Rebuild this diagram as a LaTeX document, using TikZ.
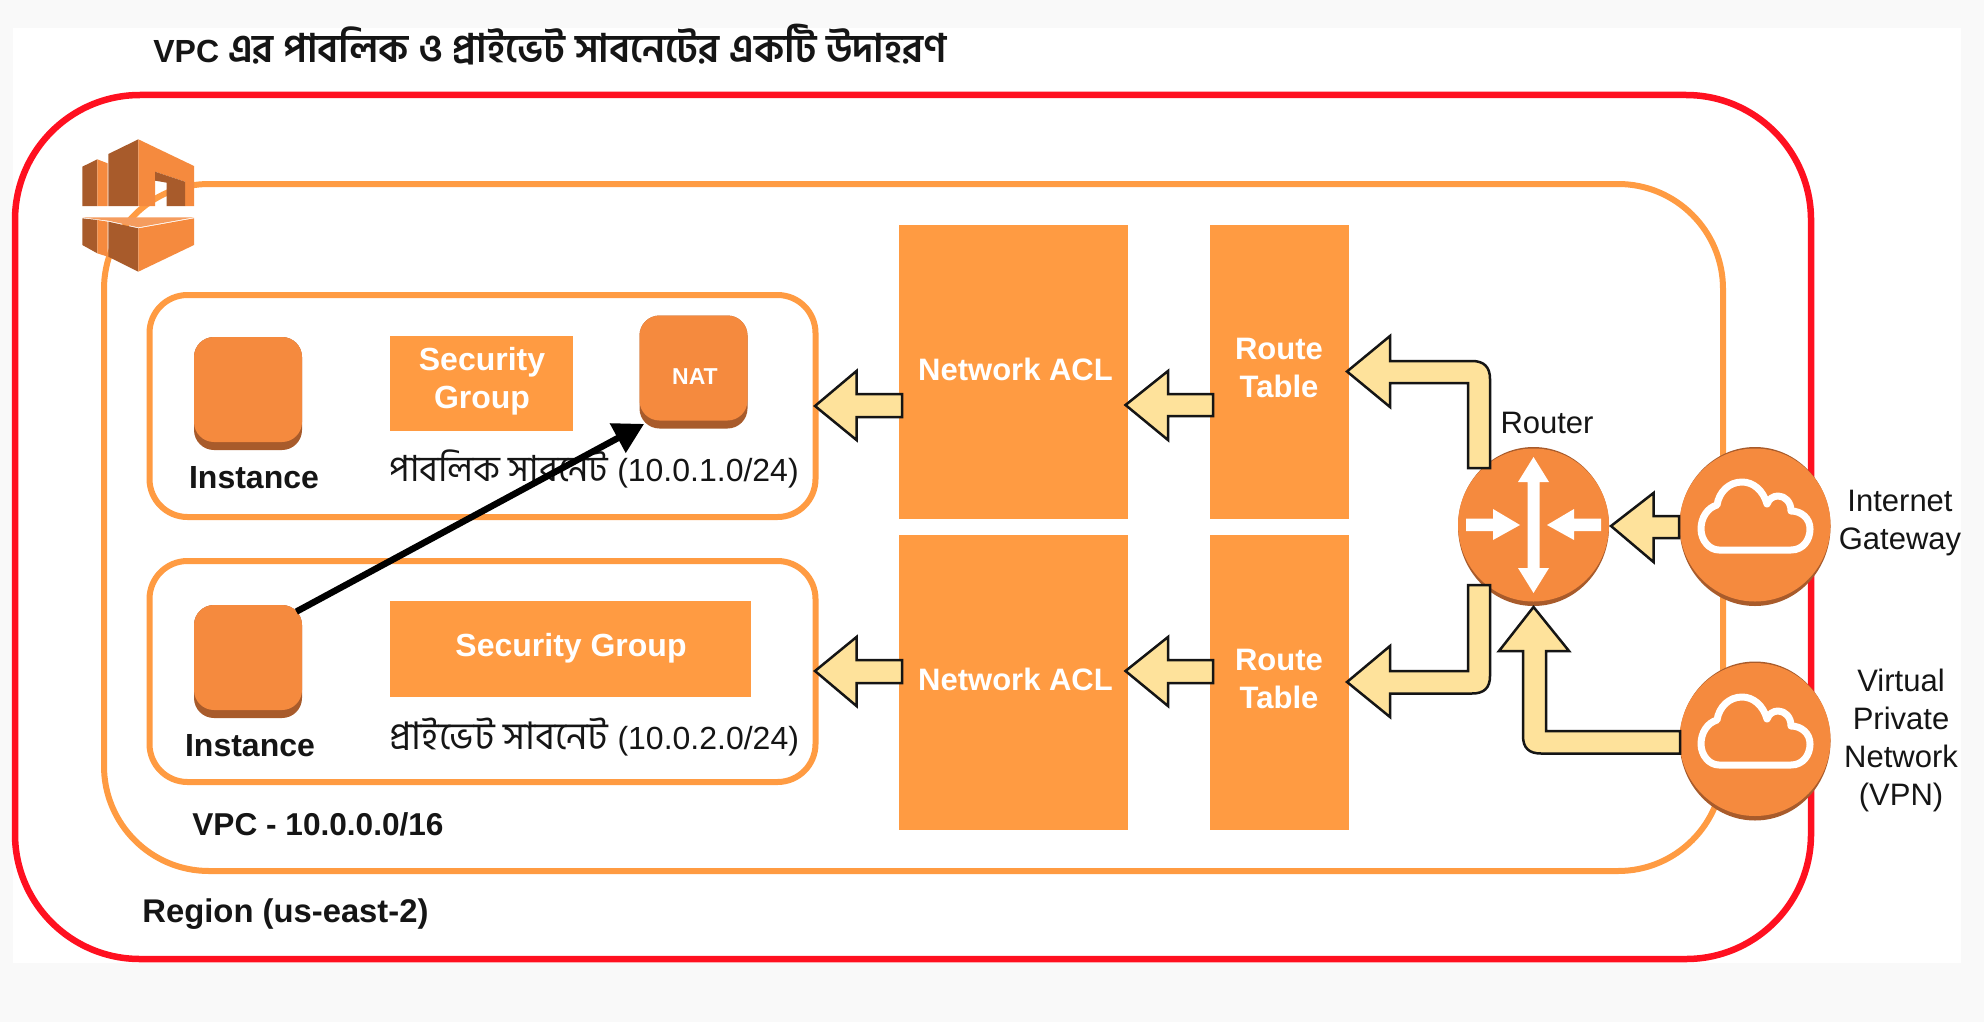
\documentclass[tikz,border=0pt]{standalone}
\usepackage{fontspec}
\setmainfont{Liberation Sans}
\newfontfamily\bn[Script=Bengali]{Hind Siliguri}
\usetikzlibrary{arrows.meta,shapes.geometric,calc}
\definecolor{bgout}{HTML}{F9F9F9}
\definecolor{redline}{HTML}{FF1020}
\definecolor{orline}{HTML}{FF9B42}
\definecolor{awsor}{HTML}{F58A3E}
\definecolor{awsdk}{HTML}{A85B2B}
\definecolor{awslt}{HTML}{F59C5E}
\definecolor{block}{HTML}{FEE29B}
\definecolor{ink}{HTML}{151515}
\tikzset{
  subnetbox/.style={draw=orline,line width=3pt,rounded corners=19pt,fill=white,minimum width=333pt},
  orbox/.style={fill=orline,inner sep=0pt},
  instbox/.style={fill=awsdk,rounded corners=10pt,inner sep=0pt,minimum width=54pt,minimum height=56.5pt},
  instface/.style={fill=awsor,rounded corners=10pt,inner sep=0pt,minimum width=54pt,minimum height=52.5pt},
  roundbase/.style={ellipse,fill=awsdk,inner sep=0pt,minimum width=75.5pt,minimum height=79.5pt},
  roundface/.style={ellipse,fill=awsor,inner sep=0pt,minimum width=75.5pt,minimum height=76.5pt},
  blockarrow/.style={draw=ink,fill=block,line width=1.25pt,line join=miter},
  whitearrow/.style={fill=white},
  cloudline/.style={draw=white,line width=3.5pt,line join=round},
  wtext/.style={text=white,font=\fontsize{16}{19}\selectfont\bfseries,align=center,inner sep=0pt},
  btext/.style={text=ink,font=\fontsize{16}{19}\selectfont\bfseries,align=center,inner sep=0pt},
  rtext/.style={text=ink,font=\fontsize{15.5}{19}\selectfont,align=center,inner sep=0pt},
}
\newcommand{\cloudshape}{%
  \draw[cloudline] (-36,24) -- (36,24) .. controls (48,24) and (55,14) .. (55,3)
    .. controls (55,-8) and (46,-15) .. (36,-15) .. controls (36,-24) and (30,-30) .. (23,-30)
    .. controls (18,-30) and (14,-27) .. (12,-22) .. controls (8,-36) and (-2,-44) .. (-13,-44)
    .. controls (-26,-44) and (-36,-34) .. (-38,-21) .. controls (-48,-18) and (-54,-8) .. (-54,3)
    .. controls (-54,14) and (-46,24) .. (-36,24) -- cycle;}
\begin{document}
\begin{tikzpicture}[x=0.5pt,y=-0.5pt]
\useasboundingbox (0,0) rectangle (1984,1022);
\fill[bgout] (0,0) rectangle (1984,1022);
\fill[white] (13,28) rectangle (1961,963);
% containers
\draw[redline,line width=3.25pt,rounded corners=62.5pt] (15,95) rectangle (1811,959);
\draw[orline,line width=3pt,rounded corners=52.5pt] (104,184) rectangle (1723,871);
\node[subnetbox,minimum height=111pt] (pub) at (482.5,406) {};
\node[subnetbox,minimum height=110.5pt] (priv) at (482.5,671.5) {};
% logo
\begin{scope}[shift={(70,130)},x=0.16667pt,y=-0.16667pt]
  \fill[awsdk] (37,110)--(82,88)--(82,228)--(37,228)--cycle;
  \fill[awsor] (82,88)--(113,100)--(113,228)--(82,228)--cycle;
  \fill[awsdk] (115,72)--(205,28)--(205,228)--(115,228)--cycle;
  \fill[awsor] (205,28)--(372,108)--(372,228)--(345,228)--(345,155)--(255,125)--(255,228)--(205,228)--cycle;
  \fill[awsdk] (255,125)--(345,155)--(345,228)--(290,228)--(290,158)--(255,152)--cycle;
  \fill[awslt] (37,262)--(372,262)--(205,292)--(115,272)--(82,268)--cycle;
  \fill[awsdk] (37,265)--(82,270)--(82,370)--(37,345)--cycle;
  \fill[awsor] (82,270)--(113,275)--(113,380)--(82,370)--cycle;
  \fill[awsdk] (115,275)--(205,295)--(205,425)--(115,380)--cycle;
  \fill[awsor] (205,295)--(372,265)--(372,345)--(205,425)--cycle;
\end{scope}
% instances
\node[instbox] (inst1) at (248,393.5) {};
\node[instface] at (248,389.5) {};
\node[instbox] (nat) at (693.5,372) {};
\node[instface] at (693.5,368) {};
\node[instbox] (inst2) at (248,661.5) {};
\node[instface] at (248,657.5) {};
% security groups, ACL, route tables
\node[orbox,minimum width=91.5pt,minimum height=47.5pt] (sg1) at (481.5,383.5) {};
\node[orbox,minimum width=180.5pt,minimum height=48pt] (sg2) at (570.5,649) {};
\node[orbox,minimum width=114.5pt,minimum height=147pt] (acl1) at (1013.5,372) {};
\node[orbox,minimum width=114.5pt,minimum height=147.5pt] (acl2) at (1013.5,682.5) {};
\node[orbox,minimum width=69.5pt,minimum height=147pt] (rt1) at (1279.5,372) {};
\node[orbox,minimum width=69.5pt,minimum height=147.5pt] (rt2) at (1279.5,682.5) {};
% round icons
\node[roundbase] (router) at (1533.5,526.5) {};
\node[roundface] at (1533.5,525) {};
\node[roundbase] (igw) at (1755,526.5) {};
\node[roundface] at (1755,525) {};
\node[roundbase] (vpn) at (1755,741) {};
\node[roundface] at (1755,739.5) {};
\begin{scope}[shift={(1755,526)}]\cloudshape\end{scope}
\begin{scope}[shift={(1755,741)}]\cloudshape\end{scope}
% router white arrows
\fill[whitearrow] (1533.5,457)--(1549,482)--(1539.5,482)--(1539.5,568)--(1549,568)--(1533.5,593)--(1518,568)--(1527.5,568)--(1527.5,482)--(1518,482)--cycle;
\fill[whitearrow] (1466,518.5)--(1493,518.5)--(1493,509)--(1520,525)--(1493,540)--(1493,531)--(1466,531)--cycle;
\fill[whitearrow] (1601,518.5)--(1574,518.5)--(1574,509)--(1547,525)--(1574,540)--(1574,531)--(1601,531)--cycle;
% block arrows
\draw[blockarrow] (902,394)--(856.5,394)--(856.5,371)--(815,406)--(856.5,440)--(856.5,417)--(902,417)--cycle;
\draw[blockarrow] (902,660)--(856.5,660)--(856.5,637)--(815,671)--(856.5,706)--(856.5,683)--(902,683)--cycle;
\draw[blockarrow] (1213,394)--(1168,394)--(1168,371)--(1125.5,405)--(1168,440)--(1168,416)--(1213,416)--cycle;
\draw[blockarrow] (1213,660)--(1168,660)--(1168,637)--(1125.5,671)--(1168,706)--(1168,683)--(1213,683)--cycle;
\draw[blockarrow] (1468,468)--(1490,468)--(1490,379) .. controls (1490,367) and (1484,361) .. (1472,361) --(1390,361)--(1390,336)--(1347,371.5)--(1390,407)--(1390,383)--(1468,383)--cycle;
\draw[blockarrow] (1468,585)--(1490,585)--(1490,676) .. controls (1490,688) and (1484,693.5) .. (1472,693.5) --(1390,693.5)--(1390,717)--(1347,682)--(1390,646)--(1390,671)--(1468,671)--cycle;
\draw[blockarrow] (1679,516)--(1653.5,516)--(1653.5,493)--(1611,526)--(1653.5,562)--(1653.5,538)--(1679,538)--cycle;
\draw[blockarrow] (1680,731)--(1546,731)--(1546,651)--(1569,651)--(1533.5,607)--(1499,651)--(1523,651)--(1523,736) .. controls (1523,748) and (1529,753.5) .. (1541,753.5) --(1680,753.5)--cycle;
% texts
\node[btext,anchor=west] (title) at (153,45) {VPC {\fontsize{19.7}{19}\selectfont\bn\bfseries এর পাবলিক ও প্রাইভেট সাবনেটের একটি উদাহরণ}};
\node[btext] (l1) at (254,478) {Instance};
\node[btext] (l2) at (250,746) {Instance};
\node[wtext,font=\fontsize{11.5}{14}\selectfont\bfseries] (nattxt) at (695,377) {NAT};
\node[wtext] (sgt1) at (482,381) {Security\\Group};
\node[wtext] (sgt2) at (571,648) {Security Group};
\node[wtext,font=\fontsize{15.5}{19}\selectfont\bfseries] (aclt1) at (1015.5,369) {Network ACL};
\node[wtext,font=\fontsize{15.5}{19}\selectfont\bfseries] (aclt2) at (1015.5,679) {Network ACL};
\node[wtext,font=\fontsize{15.5}{19}\selectfont\bfseries] (rtt1) at (1279,368) {Route\\Table};
\node[wtext,font=\fontsize{15.5}{19}\selectfont\bfseries] (rtt2) at (1279,678.5) {Route\\Table};
\node[rtext,anchor=west,font=\fontsize{16}{19}\selectfont] (pubt) at (389,469) {{\fontsize{18}{19}\selectfont\bn পাবলিক সাবনেট} (10.0.1.0/24)};
\node[rtext,anchor=west,font=\fontsize{16}{19}\selectfont] (privt) at (389,737) {{\fontsize{19}{19}\selectfont\bn প্রাইভেট সাবনেট} (10.0.2.0/24)};
\node[btext,anchor=west,font=\fontsize{15.8}{19}\selectfont\bfseries] (vpct) at (192,824) {VPC - 10.0.0.0/16};
\node[btext,anchor=west,font=\fontsize{16.4}{19}\selectfont\bfseries] (regt) at (142,914) {Region (us-east-2)};
\node[rtext] (rout) at (1547,423) {Router};
\node[rtext] (igwt) at (1900,523.5) {Internet\\Gateway};
\node[rtext] (vpnt) at (1901,740.5) {Virtual\\Private\\Network\\(VPN)};
% connector
\draw[black,line width=3.25pt,-{Triangle[length=15pt,width=16pt]}] ([xshift=-3pt,yshift=-3.5pt]inst2.north east) -- ([xshift=2.5pt,yshift=2.5pt]nat.south west);
\end{tikzpicture}
\end{document}
